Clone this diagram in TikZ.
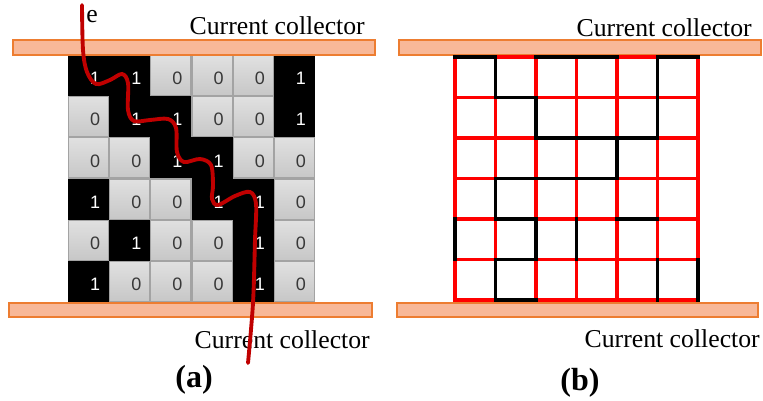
\documentclass[tikz,border=0pt]{standalone}
\usepackage{fontspec}
\setmainfont{Liberation Serif}
\newfontfamily\digitfont{Liberation Sans}
\definecolor{barfill}{RGB}{248,184,152}
\definecolor{bardraw}{RGB}{237,125,49}
\definecolor{pathred}{RGB}{192,0,0}
\tikzset{
  bar/.style={fill=barfill, draw=bardraw, line width=0.9pt},
  graycell/.style={top color=black!12, bottom color=black!22, draw=black!36, line width=0.8pt},
  digit/.style={font=\digitfont\fontsize{13.5}{15}\selectfont, inner sep=0pt},
  lbl/.style={font=\fontsize{19.3}{23}\selectfont, inner sep=0pt},
  sublbl/.style={font=\bfseries\fontsize{24}{28}\selectfont, inner sep=0pt},
  rededge/.style={draw=red, line width=2.8pt, line cap=rect},
  blackedge/.style={draw=black, line width=2.8pt, line cap=rect},
  redpath/.style={draw=pathred, line width=2.9pt, line cap=round},
}
\begin{document}
\begin{tikzpicture}[x=0.75pt, y=-0.75pt]
\useasboundingbox (0,0) rectangle (763,400);
\fill[white] (0,0) rectangle (763,400);

% ---------- panel (a) ----------
\def\cs{41.17}
\fill[black] (68,55) rectangle (315,302);
\foreach \rowvals [count=\r from 0] in {{1,1,0,0,0,1},{0,1,1,0,0,1},{0,0,1,1,0,0},{1,0,0,1,1,0},{0,1,0,0,1,0},{1,0,0,0,1,0}}{
  \foreach \v [count=\c from 0] in \rowvals {
    \pgfmathsetmacro\xa{68+\cs*\c}
    \pgfmathsetmacro\ya{55+\cs*\r}
    \ifnum\v=1
      \node[digit, text=white] (d\r\c) at (\xa+\cs/2+6.5,\ya+\cs/2+3) {1};
    \else
      \draw[graycell] (\xa+0.5,\ya+0.5) rectangle ++(\cs-1,\cs-1);
      \node[digit, text=black!78] (d\r\c) at (\xa+\cs/2+6.5,\ya+\cs/2+3) {0};
    \fi
  }
}
\draw[bar] (13,40) rectangle (375,55);
\draw[bar] (9,303) rectangle (372,317);
\node[lbl, anchor=base east] (cctopA) at (365,34) {Current collector};
\node[lbl, anchor=base east] (ccbotA) at (370,348) {Current collector};
\node[lbl, anchor=base west] (e) at (86,22) {e};
\node[sublbl, anchor=base] (a) at (194,387) {(a)};

\draw[redpath] plot[smooth, tension=0.55] coordinates {
 (82,5) (83,50) (87,72) (96,84) (110,80) (122,74) (128,83) (128,110)
 (134,121) (150,120) (168,119) (176,128) (177,152) (184,162) (200,159)
 (211,165) (213,185) (212,199) (218,205) (235,196) (250,192) (256,204)
 (255,240) (253,303) (248,363)};

% ---------- panel (b) ----------
\def\gs{40.5}
\draw[bar] (399,40) rectangle (761,55);
\draw[bar] (397,303) rectangle (758,317);
\foreach \i in {0,...,6}{
  \draw[rededge] (455+\gs*\i,57) -- (455+\gs*\i,300);
  \draw[rededge] (455,57+\gs*\i) -- (698,57+\gs*\i);
}
% horizontal black edges (line j, column c)
\foreach \j/\c in {0/0,0/2,0/3,0/5,1/1,2/2,2/3,2/4,3/1,3/2,3/3,4/1,4/4,5/1,6/1}{
  \draw[blackedge] (455+\gs*\c,57+\gs*\j) -- (455+\gs*\c+\gs,57+\gs*\j);
}
% vertical black edges (line i, row r)
\foreach \i/\r in {1/0,5/0,2/1,5/1,4/2,1/3,0/4,2/4,3/4,1/5,5/5,6/5}{
  \draw[blackedge] (455+\gs*\i,57+\gs*\r) -- (455+\gs*\i,57+\gs*\r+\gs);
}
\node[lbl, anchor=base east] (cctopB) at (752,36) {Current collector};
\node[lbl, anchor=base east] (ccbotB) at (760,347) {Current collector};
\node[sublbl, anchor=base] (b) at (580,390) {(b)};
\end{tikzpicture}
\end{document}
